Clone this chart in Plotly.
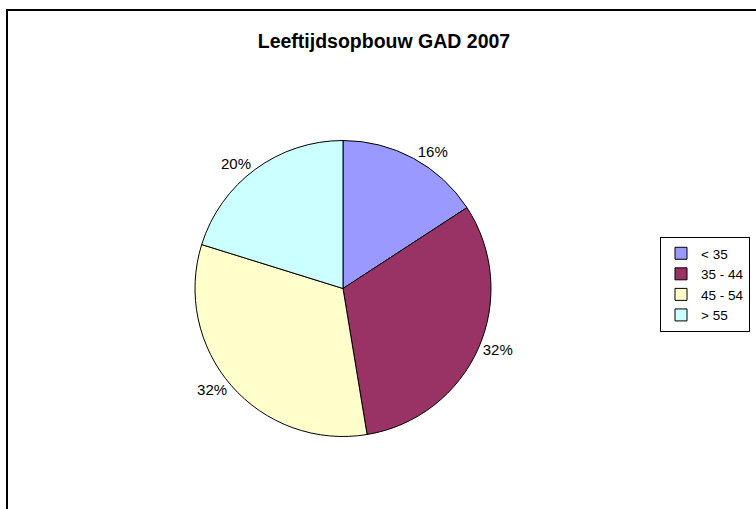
import plotly.graph_objects as go

title = "Leeftijdsopbouw GAD 2007"
categories = ["< 35", "35 - 44", "45 - 54", "> 55"]
values = [15.8, 31.6, 32.4, 20.2]
colors = ["#9999FF", "#993366", "#FFFFCC", "#CCFFFF"]

W, H = 756, 509
cx, cy, half = 343, 288.5, 148

fig = go.Figure(go.Pie(
    labels=categories,
    values=values,
    sort=False,
    direction="clockwise",
    rotation=0,
    marker=dict(colors=colors, line=dict(color="black", width=1)),
    textinfo="percent",
    texttemplate="%{percent:.0%}",
    textposition="outside",
    textfont=dict(family="Liberation Sans, Arial", size=15, color="black"),
    domain=dict(x=[(cx - half) / W, (cx + half) / W],
                y=[1 - (cy + half) / H, 1 - (cy - half) / H]),
    hoverinfo="label+percent",
))

fig.update_layout(
    width=W, height=H,
    margin=dict(l=0, r=0, t=0, b=0),
    paper_bgcolor="white",
    plot_bgcolor="white",
    font=dict(family="Liberation Sans, Arial", color="black"),
    title=dict(text="<b>" + title + "</b>", x=384 / W, xanchor="center",
               y=1 - 41 / H, yanchor="middle",
               font=dict(family="Liberation Sans, Arial", size=19.5, color="black")),
    legend=dict(x=660 / W, xanchor="left", y=1 - 237 / H, yanchor="top",
                bordercolor="black", borderwidth=1, bgcolor="white",
                font=dict(family="Liberation Sans, Arial", size=13.5, color="black"),
                tracegroupgap=0, itemwidth=30),
    shapes=[dict(type="rect", xref="paper", yref="paper",
                 x0=7 / W, x1=1.05, y0=-0.05, y1=1 - 10 / H,
                 line=dict(color="black", width=2), fillcolor="rgba(0,0,0,0)",
                 layer="below")],
)

fig.write_html("out.html", config={"displayModeBar": False},
               post_script="document.body.style.margin='0px';")
